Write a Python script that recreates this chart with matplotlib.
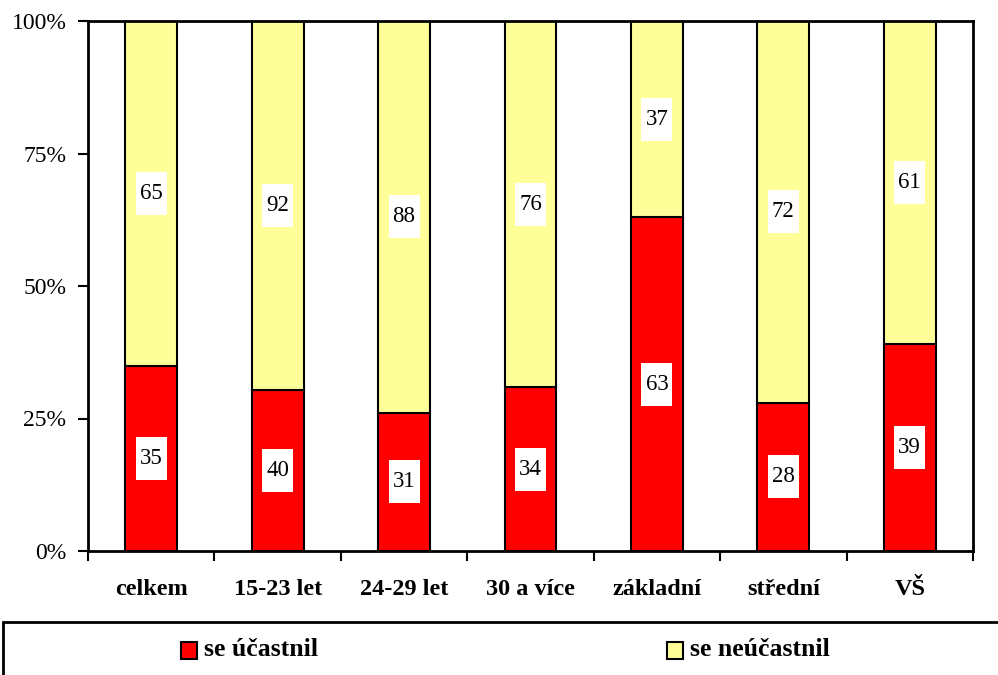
import numpy as np
import matplotlib.pyplot as plt
from matplotlib.patches import Rectangle
from matplotlib.transforms import ScaledTranslation

categories = ["celkem", "15-23 let", "24-29 let", "30 a více", "základní", "střední", "VŠ"]
ucastnil = [35, 40, 31, 34, 63, 28, 39]
neucastnil = [65, 92, 88, 76, 37, 72, 61]
series_names = ["se účastnil", "se neúčastnil"]
colors = ["#FF0000", "#FFFF99"]

plt.rcParams["font.family"] = ["Liberation Serif", "DejaVu Serif"]

a = np.array(ucastnil, dtype=float)
b = np.array(neucastnil, dtype=float)
tot = a + b
pa = a / tot * 100
pb = b / tot * 100
x = np.arange(len(categories))

fig = plt.figure(figsize=(9.98, 6.75), dpi=100)
ax = fig.add_axes([88 / 998, 1 - 551 / 675, (973 - 88) / 998, (551 - 21) / 675])

w = 0.41
ax.bar(x, pa, width=w, color=colors[0], edgecolor="black", linewidth=1.5, zorder=2)
ax.bar(x, pb, width=w, bottom=pa, color=colors[1], edgecolor="black", linewidth=1.5, zorder=2)


def label(xv, yv, s):
    # white box of fixed pixel size behind the value
    tr = fig.dpi_scale_trans + ScaledTranslation(xv, yv, ax.transData)
    ax.add_patch(Rectangle((-0.155, -0.215), 0.31, 0.43, transform=tr,
                           facecolor="white", edgecolor="none", zorder=3))
    ax.text(xv, yv, s, ha="center", va="center", fontsize=16.5, zorder=4)


for i in range(len(x)):
    label(x[i], pa[i] / 2, str(ucastnil[i]))
    label(x[i], pa[i] + pb[i] / 2, str(neucastnil[i]))

ax.set_xlim(-0.5, len(x) - 0.5)
ax.set_ylim(0, 100)
ax.set_yticks([0, 25, 50, 75, 100])
ax.set_yticklabels(["0%", "25%", "50%", "75%", "100%"], fontsize=17)
ax.set_xticks(np.arange(len(x) + 1) - 0.5)
ax.set_xticklabels([])
ax.set_xticks(x, minor=True)
ax.set_xticklabels(categories, minor=True, fontsize=17.5, fontweight="bold")
ax.tick_params(axis="x", which="minor", length=0, pad=20)
ax.tick_params(axis="x", which="major", direction="out", length=7, width=1.5)
ax.tick_params(axis="y", direction="out", length=7, width=1.5, pad=8.5)
for s in ax.spines.values():
    s.set_linewidth(2)

# legend box
fig.patches.append(Rectangle((3 / 998, -0.05), 1.1, 1 - 622 / 675 + 0.05,
                             transform=fig.transFigure, facecolor="white",
                             edgecolor="black", linewidth=2))
ly = 1 - 650 / 675
for xs, name, c in [(181, series_names[0], colors[0]), (667, series_names[1], colors[1])]:
    fig.patches.append(Rectangle((xs / 998, ly - 8.5 / 675), 16 / 998, 17 / 675,
                                 transform=fig.transFigure, facecolor=c,
                                 edgecolor="black", linewidth=1.5))
    fig.text((xs + 23) / 998, ly, name, ha="left", va="center", fontsize=18.5,
             fontweight="bold")

fig.savefig("out.png", dpi=100)
